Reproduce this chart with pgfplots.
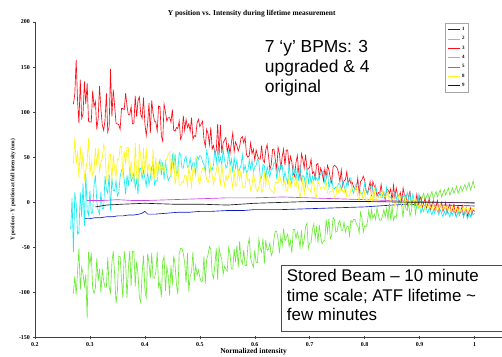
\documentclass[border=0pt]{standalone}
\usepackage{pgfplots}
\usepackage{pgfplotstable}
\pgfplotsset{compat=1.18}
\usepackage{fontspec}
\setmainfont{Liberation Serif}
\newfontfamily\arial{Liberation Sans}
\definecolor{c1}{rgb}{0.05,0.1,0.75}
\definecolor{c2}{rgb}{0.42,0.92,0.22}
\definecolor{c3}{rgb}{0.98,0.05,0.1}
\definecolor{c4}{rgb}{0.1,0.92,0.95}
\definecolor{c5}{rgb}{0.8,0.25,0.9}
\definecolor{c8}{rgb}{1.0,0.96,0.1}
\definecolor{c9}{rgb}{0.1,0.1,0.1}
\pgfplotstableread{
x R Y C G
0.2650 nan nan -30 nan
0.2675 nan nan 5 nan
0.2700 109 43 -55 -101
0.2725 120 72 11 -82
0.2750 158 42 -1 -102
0.2775 113 57 -35 -77
0.2800 88 27 -33 -51
0.2825 136 62 11 -97
0.2850 93 37 -16 -72
0.2875 98 56 21 -79
0.2900 134 26 -26 -93
0.2925 109 36 32 -80
0.2950 132 46 -9 -128
0.2975 90 71 -14 -55
0.3000 89 31 13 -69
0.3025 89 45 -12 -56
0.3050 124 30 -11 -95
0.3075 106 35 19 -101
0.3100 112 60 30 -95
0.3125 81 40 1 -62
0.3150 93 60 -9 -87
0.3175 129 34 -13 -74
0.3200 104 44 12 -100
0.3225 86 49 -7 -74
0.3250 80 64 -7 -87
0.3275 91 59 29 -94
0.3300 121 24 15 -94
0.3325 78 24 10 -61
0.3350 84 53 31 -94
0.3375 148 53 -9 -100
0.3400 95 23 27 -67
0.3425 125 53 13 -54
0.3450 107 38 13 -80
0.3475 88 28 24 -112
0.3500 87 48 7 -99
0.3525 86 47 11 -60
0.3550 81 62 28 -60
0.3575 104 62 36 -86
0.3600 104 27 37 -106
0.3625 103 57 25 -54
0.3650 121 42 9 -67
0.3675 107 61 30 -106
0.3700 97 61 18 -73
0.3725 97 26 39 -54
0.3750 106 46 23 -93
0.3775 87 31 27 -54
0.3800 87 21 32 -54
0.3825 118 66 16 -93
0.3850 95 30 25 -66
0.3875 113 20 9 -79
0.3900 117 65 37 -105
0.3925 98 50 38 -111
0.3950 93 30 26 -79
0.3975 116 60 35 -59
0.4000 88 32 27 -96
0.4025 74 60 18 -107
0.4050 87 32 34 -57
0.4075 110 43 20 -67
0.4100 77 39 27 -84
0.4125 113 23 39 -56
0.4150 99 59 43 -84
0.4175 90 27 20 -84
0.4200 89 50 24 -77
0.4225 79 26 24 -55
0.4250 107 42 40 -94
0.4275 106 34 47 -88
0.4300 74 46 30 -105
0.4325 68 37 45 -65
0.4350 109 33 25 -60
0.4375 100 45 47 -98
0.4400 90 49 33 -71
0.4425 94 53 24 -81
0.4450 94 56 28 -103
0.4475 89 28 29 -70
0.4500 103 40 54 -92
0.4525 80 56 39 -59
0.4550 79 20 54 -69
0.4575 83 31 31 -91
0.4600 82 43 34 -102
0.4625 90 19 55 -57
0.4650 70 19 53 -51
0.4675 74 23 38 -51
0.4700 96 22 38 -57
0.4725 80 30 48 -67
0.4750 92 30 51 -89
0.4775 83 18 39 -56
0.4800 87 38 40 -99
0.4825 79 29 49 -82
0.4850 94 17 37 -77
0.4875 70 37 44 -55
0.4900 74 33 44 -87
0.4925 73 49 32 -70
0.4950 88 48 51 -81
0.4975 92 24 48 -75
0.5000 84 20 52 -83
0.5025 87 32 51 -88
0.5050 90 38 45 -87
0.5075 70 38 42 -60
0.5100 62 34 33 -90
0.5125 81 25 57 -63
0.5150 76 22 51 -58
0.5175 64 27 33 -49
0.5200 83 42 39 -52
0.5225 59 30 36 -79
0.5250 63 20 42 -84
0.5275 54 29 59 -69
0.5300 58 35 44 -51
0.5325 87 44 59 -86
0.5350 52 31 44 -50
0.5375 86 19 50 -58
0.5400 55 43 41 -63
0.5425 66 27 59 -80
0.5450 69 18 47 -71
0.5475 72 30 38 -74
0.5500 56 24 41 -76
0.5525 64 29 56 -50
0.5550 54 39 41 -57
0.5575 66 26 48 -74
0.5600 77 16 33 -74
0.5625 56 36 50 -52
0.5650 67 18 38 -66
0.5675 63 20 47 -48
0.5700 57 36 32 -72
0.5725 62 25 37 -43
0.5750 71 35 41 -64
0.5775 73 17 53 -68
0.5800 66 17 34 -53
0.5825 72 16 41 -70
0.5850 53 32 33 -70
0.5875 50 24 35 -48
0.5900 52 26 47 -40
0.5925 66 13 37 -62
0.5950 54 18 47 -68
0.5975 59 33 34 -72
0.6000 47 23 39 -53
0.6025 58 15 41 -67
0.6050 52 12 48 -67
0.6075 48 17 45 -41
0.6100 48 30 28 -51
0.6125 63 11 27 -55
0.6150 47 14 42 -40
0.6175 44 34 41 -68
0.6200 58 19 26 -42
0.6225 64 31 40 -53
0.6250 52 23 33 -52
0.6275 36 15 28 -45
0.6300 42 13 37 -59
0.6325 59 12 37 -55
0.6350 59 10 44 -40
0.6375 47 22 43 -32
0.6400 37 22 26 -32
0.6425 61 22 40 -42
0.6450 54 32 33 -56
0.6475 36 24 42 -37
0.6500 51 19 41 -48
0.6525 59 19 24 -29
0.6550 41 24 34 -43
0.6575 58 13 26 -39
0.6600 58 13 21 -35
0.6625 40 31 43 -49
0.6650 51 18 26 -42
0.6675 45 28 20 -56
0.6700 32 30 42 -30
0.6725 29 20 34 -30
0.6750 44 17 25 -40
0.6775 52 30 39 -33
0.6800 34 14 24 -39
0.6825 27 6 41 -50
0.6850 54 13 24 -31
0.6875 48 26 30 -49
0.6900 38 8 28 -41
0.6925 53 28 18 -27
0.6950 37 20 39 -23
0.6975 37 15 20 -51
0.7000 39 15 33 -45
0.7025 48 11 21 -45
0.7050 32 23 29 -30
0.7075 34 22 24 -24
0.7100 26 8 30 -40
0.7125 42 6 26 -26
0.7150 43 24 24 -45
0.7175 28 20 30 -25
0.7200 38 15 31 -38
0.7225 33 17 33 -46
0.7250 24 17 35 -43
0.7275 37 15 21 -42
0.7300 28 23 27 -19
0.7325 41 10 34 -33
0.7350 36 10 16 -18
0.7375 27 12 22 -40
0.7400 22 12 28 -37
0.7425 39 16 16 -17
0.7450 41 5 15 -19
0.7475 40 7 17 -33
0.7500 38 19 17 -32
0.7525 33 11 21 -23
0.7550 23 17 20 -20
0.7575 36 12 14 -31
0.7600 18 14 23 -31
0.7625 24 10 19 -22
0.7650 25 18 12 -33
0.7675 34 6 22 -27
0.7700 20 7 19 -26
0.7725 26 7 27 -37
0.7750 21 15 27 -20
0.7775 22 17 14 -22
0.7800 17 13 10 -19
0.7825 15 14 17 -19
0.7850 14 16 21 -24
0.7875 27 6 20 -26
0.7900 10 2 18 -34
0.7925 23 12 11 -11
0.7950 25 9 9 -17
0.7975 29 3 12 -33
0.8000 25 12 21 -26
0.8025 13 2 14 -27
0.8050 10 4 9 -22
0.8075 16 0 13 -9
0.8100 23 2 16 -19
0.8125 7 14 20 -8
0.8150 23 0 14 -18
0.8175 18 14 7 -13
0.8200 16 1 19 -19
0.8225 7 5 11 -6
0.8250 11 7 6 -14
0.8275 9 8 12 -20
0.8300 20 5 5 -20
0.8325 8 11 5 -15
0.8350 9 6 12 -8
0.8375 3 7 3 -16
0.8400 15 7 17 -7
0.8425 14 12 8 -19
0.8450 10 0 6 -1
0.8475 15 2 6 -20
0.8500 1 3 1 -5
0.8525 19 6 8 -20
0.8550 6 -4 11 -15
0.8575 16 1 3 -17
0.8600 8 2 10 -3
0.8625 7 9 -1 2
0.8650 11 5 3 0
0.8675 -1 -3 8 -4
0.8700 16 -5 6 -17
0.8725 8 1 8 4
0.8750 8 3 5 -7
0.8775 -3 1 11 -9
0.8800 7 -1 4 0
0.8825 12 -3 10 -15
0.8850 0 4 -3 -10
0.8875 0 3 9 2
0.8900 1 0 2 2
0.8925 -3 6 -1 -13
0.8950 9 -4 -6 -2
0.8975 -2 -5 8 -6
0.9000 4 -2 -4 8
0.9025 6 -6 -12 2
0.9050 -6 -2 -6 6
0.9075 0 -4 -10 10
0.9100 4 -8 -4 2
0.9125 -6 -2 -8 6
0.9150 -2 -6 -12 10
0.9175 4 -2 -6 4
0.9200 -8 -6 -10 8
0.9225 -2 -8 -14 12
0.9250 2 -2 -8 4
0.9275 -8 -6 -12 8
0.9300 -4 -8 -6 12
0.9325 2 -4 -10 6
0.9350 -10 -8 -14 10
0.9375 -4 -2 -8 14
0.9400 0 -6 -12 6
0.9425 -10 -8 -16 10
0.9450 -6 -4 -10 14
0.9475 0 -8 -14 8
0.9500 -12 -4 -8 12
0.9525 -6 -8 -12 16
0.9550 -2 -6 -16 8
0.9575 -12 -10 -10 12
0.9600 -8 -4 -14 16
0.9625 -2 -8 -8 10
0.9650 -14 -10 -12 14
0.9675 -8 -6 -16 18
0.9700 -4 -10 -10 10
0.9725 -14 -6 -14 14
0.9750 -10 -10 -8 18
0.9775 -4 -8 -12 12
0.9800 -16 -4 -16 16
0.9825 -10 -10 -10 20
0.9850 -6 -6 -14 14
0.9875 -16 -10 -18 18
0.9900 -10 -6 -12 22
0.9925 -6 -10 -16 14
0.9950 -14 -6 -10 18
0.9975 -8 -8 -14 24
1.0000 -10 -6 -12 16
}\dataA
\begin{document}
\begin{tikzpicture}
\begin{axis}[
  scale only axis, width=467.5bp, height=316bp,
  xmin=0.2, xmax=1.05, ymin=-150, ymax=200,
  clip=false,
  unbounded coords=discard,
  axis lines=left,
  axis line style={-, draw=black!75, line width=0.5bp},
  xtick={0.2,0.3,0.4,0.5,0.6,0.7,0.8,0.9,1},
  xticklabels={0.2,0.3,0.4,0.5,0.6,0.7,0.8,0.9,1},
  ytick={-150,-100,-50,0,50,100,150,200},
  tick style={draw=black!75, line width=0.4bp},
  major tick length=3bp,
  tick label style={font=\fontsize{6}{6}\selectfont\bfseries},
  /pgf/number format/assume math mode=true,
  legend cell align=left,
  legend style={at={(0.879,0.997)}, anchor=north west, draw=black!35,
    fill=white, font=\fontsize{5}{5}\selectfont\bfseries,
    inner xsep=2bp, inner ysep=2bp, row sep=0.6bp},
  legend image code/.code={\draw[#1] (0cm,0cm) -- (0.42cm,0cm);},
  every axis plot/.append style={line width=0.65bp, mark=none},
]
\addplot[c1] coordinates {(0.29,-18) (0.30,-18) (0.31,-17) (0.32,-17) (0.33,-16) (0.34,-16) (0.35,-15) (0.36,-15) (0.37,-14) (0.38,-14) (0.39,-13) (0.395,-12) (0.40,-10) (0.405,-13) (0.42,-13) (0.44,-12) (0.46,-11) (0.48,-11) (0.50,-10) (0.52,-10) (0.55,-9) (0.58,-9) (0.60,-8) (0.65,-8) (0.70,-7) (0.75,-6) (0.80,-5) (0.85,-3) (0.88,-2) (0.90,-3) (0.95,-3) (1.0,-4)};
\addlegendentry{1}
\addplot[c2] table[x=x,y=G] {\dataA};
\addlegendentry{2}
\addplot[c3] table[x=x,y=R] {\dataA};
\addlegendentry{3}
\addplot[c4] table[x=x,y=C] {\dataA};
\addlegendentry{4}
\addplot[c5] coordinates {(0.295,2) (0.32,2) (0.35,3) (0.38,2) (0.40,2) (0.45,3) (0.50,4) (0.55,5) (0.60,5) (0.65,6) (0.70,5) (0.75,4) (0.80,3) (0.85,2) (0.90,1) (0.95,0) (1.0,-1)};
\addlegendentry{5}
\addplot[c8] table[x=x,y=Y] {\dataA};
\addlegendentry{8}
\addplot[c9] coordinates {(0.31,-5) (0.32,-4) (0.33,-3) (0.36,-2) (0.40,-1) (0.45,-2) (0.50,-2) (0.55,-3) (0.60,-1) (0.65,0) (0.70,1) (0.80,1) (0.90,0) (1.0,0)};
\addlegendentry{9}
\coordinate (bl) at (rel axis cs:0,0);
\coordinate (tr) at (rel axis cs:1,1);
\node[font=\fontsize{7.5}{8}\selectfont\bfseries] at (rel axis cs:0.464,1.025) {Y position vs. Intensity during lifetime measurement};
\node[font=\fontsize{7.5}{8}\selectfont\bfseries] at (rel axis cs:0.468,-0.046) {Normalized intensity};
\node[rotate=90, font=\fontsize{5.5}{6}\selectfont\bfseries] at (rel axis cs:-0.047,0.468) {Y position - Y position at full intensity (um)};
\node[anchor=north west, inner sep=0pt, align=left, font=\arial\fontsize{17.5}{20}\selectfont] at (rel axis cs:0.492,0.943) {7 ‘y’ BPMs: 3\\upgraded \& 4\\original};
\draw[black!70, line width=0.6bp, fill=white] (rel axis cs:0.528,0.228) rectangle (rel axis cs:1.1,0.019);
\node[anchor=north west, inner sep=0pt, align=left, font=\arial\fontsize{17}{19.5}\selectfont] at (rel axis cs:0.539,0.217) {Stored Beam – 10 minute\\time scale; ATF lifetime \textasciitilde\\few minutes};
\end{axis}
\pgfresetboundingbox
\useasboundingbox ([shift={(-35bp,-19bp)}]bl) rectangle ([shift={(0bp,22bp)}]tr);
\end{tikzpicture}
\end{document}
